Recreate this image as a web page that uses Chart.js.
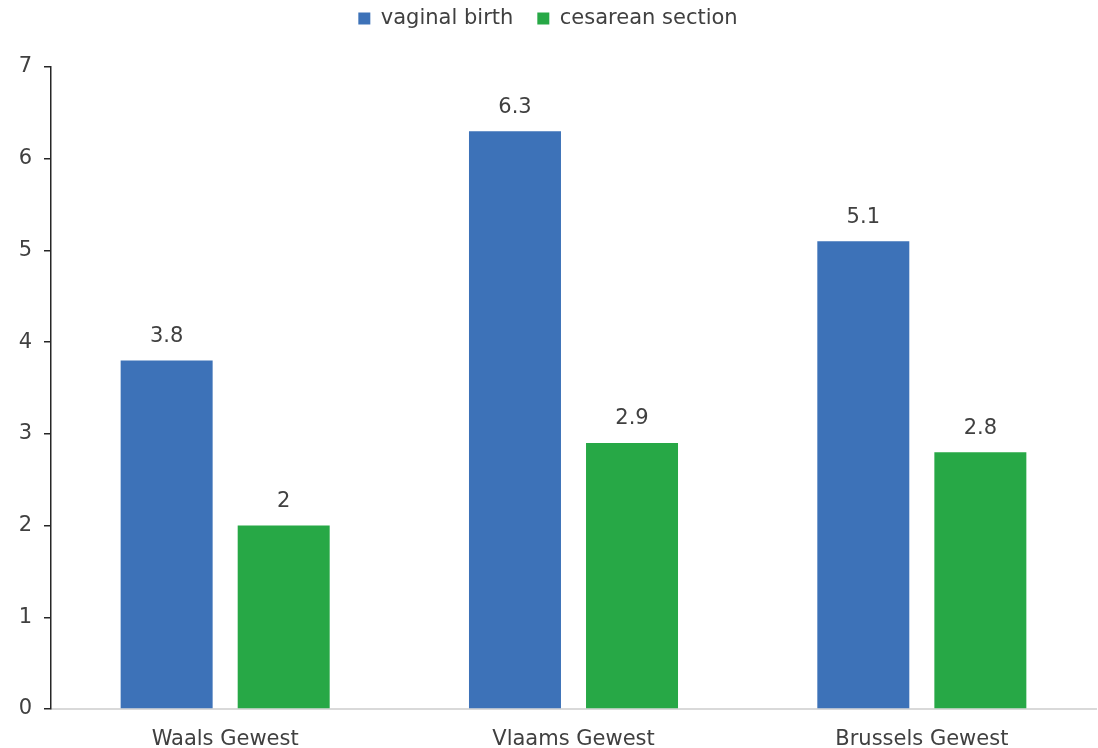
<!DOCTYPE html>
<html>
<head>
<meta charset="utf-8">
<script src="https://cdn.jsdelivr.net/npm/chart.js@4"></script>
<style>
  html, body { margin: 0; padding: 0; background: #fff; }
  #wrap { width: 1098px; height: 748px; }
</style>
</head>
<body>
<div id="wrap"><canvas id="birthChart"></canvas></div>
<script>
// regions and values per delivery type
const regions = ["Waals Gewest", "Vlaams Gewest", "Brussels Gewest"];
const vaginalBirth = [3.8, 6.3, 5.1];
const cesareanSection = [2, 2.9, 2.8];
const yTicks = [0, 1, 2, 3, 4, 5, 6, 7];

const FONT = "'DejaVu Sans', Verdana, sans-serif";
const TEXT = "#404040";

// value labels above every bar
const valueLabels = {
  id: "valueLabels",
  afterDatasetsDraw(chart) {
    const ctx = chart.ctx;
    ctx.save();
    ctx.font = "21px " + FONT;
    ctx.fillStyle = TEXT;
    ctx.textAlign = "center";
    ctx.textBaseline = "middle";
    chart.data.datasets.forEach((ds, i) => {
      chart.getDatasetMeta(i).data.forEach((bar, j) => {
        ctx.fillText(String(ds.data[j]), bar.x, bar.y - 24);
      });
    });
    ctx.restore();
  },
};

// extra room under the legend
const legendGap = {
  id: "legendGap",
  beforeInit(chart) {
    const fit = chart.legend.fit;
    chart.legend.fit = function () {
      fit.bind(chart.legend)();
      this.height += 28;
    };
  },
};

const birthCtx = document.getElementById("birthChart").getContext("2d");
new Chart(birthCtx, {
  type: "bar",
  data: {
    labels: regions,
    datasets: [
      {
        label: "vaginal birth",
        data: vaginalBirth,
        backgroundColor: "#3d72b8",
        categoryPercentage: 0.672,
        barPercentage: 0.786,
      },
      {
        label: "cesarean section",
        data: cesareanSection,
        backgroundColor: "#27a846",
        categoryPercentage: 0.672,
        barPercentage: 0.786,
      },
    ],
  },
  options: {
    responsive: true,
    maintainAspectRatio: false,
    animation: false,
    layout: { padding: { top: -16, right: 2, left: 0, bottom: 0 } },
    scales: {
      x: {
        grid: { display: false },
        border: { color: "#d9d9d9", width: 2 },
        ticks: { color: TEXT, font: { family: FONT, size: 21 }, padding: 10 },
        afterFit: (s) => { s.height = 39; },
      },
      y: {
        min: 0,
        max: 7,
        afterBuildTicks: (s) => { s.ticks = yTicks.map((v) => ({ value: v })); },
        grid: { drawOnChartArea: false, tickLength: 7, color: "#262626", lineWidth: 1.5 },
        border: { color: "#262626", width: 1.5 },
        ticks: { color: TEXT, font: { family: FONT, size: 21 }, padding: 12 },
        afterFit: (s) => { s.width = 51; },
      },
    },
    plugins: {
      legend: {
        display: true,
        position: "top",
        labels: {
          color: TEXT,
          font: { family: FONT, size: 21 },
          boxWidth: 12,
          boxHeight: 12,
          padding: 24,
        },
      },
      tooltip: { enabled: false },
    },
  },
  plugins: [valueLabels, legendGap],
});
</script>
</body>
</html>
